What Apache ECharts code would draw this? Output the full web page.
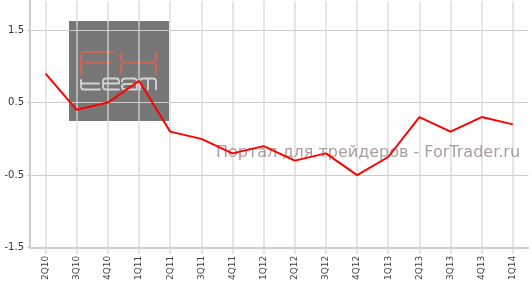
<!DOCTYPE html>
<html>
<head>
<meta charset="utf-8">
<script src="https://cdn.jsdelivr.net/npm/echarts@6/dist/echarts.min.js"></script>
<style>
html,body{margin:0;padding:0;background:#fff}
#wrap{position:relative;width:532px;height:284px}
#logo{position:absolute;left:0;top:0;width:532px;height:284px;z-index:0}
#c{position:absolute;left:0;top:0;width:532px;height:284px;z-index:1}
</style>
</head>
<body>
<div id="wrap">
<svg id="logo" width="532" height="284" xmlns="http://www.w3.org/2000/svg">
  <rect x="69" y="21" width="100" height="100" fill="#777777"/>
  <g fill="none" stroke="#c8665a" stroke-width="2.2" stroke-linecap="round" stroke-linejoin="round">
    <path d="M113,52 L85,52 Q81,52 81,56 L81,74 M81,62.5 L110,62.5"/>
    <path d="M121,52 L121,58.5 Q121,62.5 125,62.5 L152,62.5 Q156,62.5 156,58.5 L156,52 M125,62.5 Q121,62.5 121,66.5 L121,74 M152,62.5 Q156,62.5 156,66.5 L156,74"/>
  </g>
  <g fill="none" stroke="#d4d4d4" stroke-width="1.8" stroke-linecap="round" stroke-linejoin="round">
    <path d="M81,80 L81,86.5 Q81,89.5 84,89.5 L100,89.5 M81,83.5 L99,83.5"/>
    <path d="M119,89.5 L106,89.5 Q103,89.5 103,86.5 L103,81.5 Q103,78.5 106,78.5 L116,78.5 Q119,78.5 119,81.5 L119,83.5 L103,83.5"/>
    <path d="M122,81.5 Q122,78.5 125,78.5 L134,78.5 Q137,78.5 137,81.5 L137,89.5 L125,89.5 Q122,89.5 122,86.8 Q122,84 125,84 L137,84"/>
    <path d="M140,89.5 L140,81.5 Q140,78.5 143,78.5 L153,78.5 Q156,78.5 156,81.5 L156,89.5 M148,78.5 L148,89.5"/>
  </g>
</svg>
<div id="c"></div>
</div>
<script>
const categories = ['2Q10','3Q10','4Q10','1Q11','2Q11','3Q11','4Q11','1Q12','2Q12','3Q12','4Q12','1Q13','2Q13','3Q13','4Q13','1Q14'];
const values = [0.9, 0.4, 0.5, 0.8, 0.1, 0.0, -0.2, -0.1, -0.3, -0.2, -0.5, -0.25, 0.3, 0.1, 0.3, 0.2];
const yTicks = [-1.5, -0.5, 0.5, 1.5];
const watermarkText = 'Портал для трейдеров - ForTrader.ru';

const chart = echarts.init(document.getElementById('c'), null, {renderer: 'canvas'});
chart.setOption({
  animation: false,
  backgroundColor: 'transparent',
  grid: {left: 30, right: 3.6, top: 1, bottom: 36.3, containLabel: false},
  xAxis: {
    type: 'category',
    data: categories,
    boundaryGap: true,
    axisLine: {show: true, onZero: false, lineStyle: {color: '#d0d0d0', width: 2}},
    axisTick: {show: true, alignWithLabel: true, length: 6, lineStyle: {color: '#dcdcdc', width: 1.5}},
    splitLine: {show: true, alignWithLabel: true, lineStyle: {color: 'rgba(215,215,215,0.85)', width: 1.5}},
    axisLabel: {rotate: 90, margin: 8, fontFamily: 'DejaVu Sans', fontSize: 9, color: '#444', interval: 0}
  },
  yAxis: {
    type: 'value',
    min: -1.5, max: 1.9, interval: 1,
    axisLine: {show: true, lineStyle: {color: '#cccccc', width: 2}},
    axisTick: {show: true, length: 3, lineStyle: {color: '#cccccc'}},
    splitLine: {show: true, lineStyle: {color: ['#cccccc','#cccccc','#cccccc','#cccccc','rgba(0,0,0,0)'], width: 1}},
    axisLabel: {showMaxLabel: false, margin: 6, fontFamily: 'DejaVu Sans', fontSize: 10, color: '#333',
      formatter: v => yTicks.indexOf(Math.round(v*10)/10) >= 0 ? String(v) : ''}
  },
  graphic: [
    {type: 'text', z: 5, x: 216, y: 152.5, style: {text: watermarkText, font: '16px "DejaVu Sans"', fill: 'rgba(150,134,134,0.8)', verticalAlign: 'middle', align: 'left'}}
  ],
  series: [{
    type: 'line',
    data: values,
    z: 10,
    showSymbol: false,
    symbol: 'none',
    lineStyle: {color: '#ff0000', width: 2},
    itemStyle: {color: '#ff0000'}
  }]
});
</script>
</body>
</html>
